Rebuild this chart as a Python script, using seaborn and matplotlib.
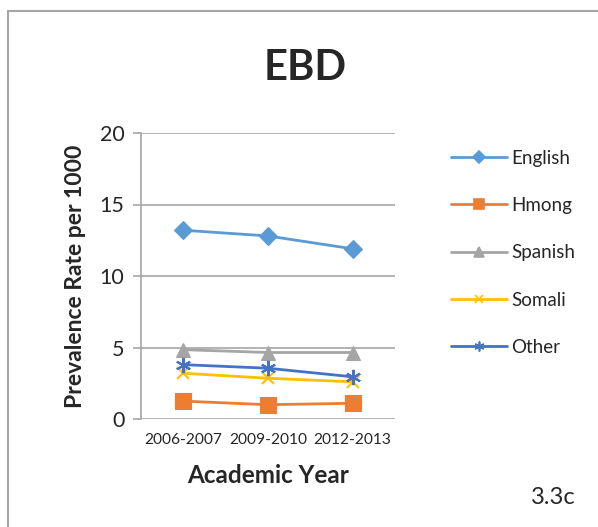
import matplotlib
matplotlib.use("Agg")
import matplotlib.pyplot as plt
import matplotlib.patches as mpatches
import pandas as pd
import seaborn as sns

years = ["2006-2007", "2009-2010", "2012-2013"]
english = [13.2, 12.8, 11.9]
hmong = [1.25, 1.0, 1.1]
spanish = [4.85, 4.65, 4.65]
somali = [3.2, 2.85, 2.6]
other = [3.8, 3.55, 2.95]

groups = ["English", "Hmong", "Spanish", "Somali", "Other"]
series = [english, hmong, spanish, somali, other]
colors = ["#5B9BD5", "#ED7D31", "#A5A5A5", "#FFC000", "#4472C4"]
markers = ["D", "s", "^", "x", (6, 2, 0)]
msizes = [9, 11, 10, 9, 11]

sns.set_theme(style="white")
plt.rcParams["font.family"] = ["Lato", "DejaVu Sans"]

rows = []
for g, vals in zip(groups, series):
    for i, (y, v) in enumerate(zip(years, vals)):
        rows.append({"group": g, "pos": i, "year": y, "rate": v})
df = pd.DataFrame(rows)

fig = plt.figure(figsize=(5.98, 5.27), dpi=100)
ax = fig.add_axes([141 / 598, 1 - 419 / 527, 254 / 598, 286 / 527])

handles = []
for g, c, m, ms in zip(groups, colors, markers, msizes):
    sub = df[df["group"] == g]
    sns.lineplot(data=sub, x="pos", y="rate", ax=ax, color=c, linewidth=2.0,
                 marker=m, markersize=ms, markeredgecolor=c,
                 markeredgewidth=1.5 if m in ("x", (6, 2, 0)) else 0.8,
                 legend=False)
    handles.append(plt.Line2D([0], [0], color=c, linewidth=2.0, marker=m,
                              markersize=ms * 0.65, markeredgecolor=c,
                              markeredgewidth=1.2, label=g))

ax.set_xlim(-0.5, 2.5)
ax.set_ylim(0, 20)
ax.set_yticks([0, 5, 10, 15, 20])
ax.set_xticks([0, 1, 2])
ax.set_xticklabels(years, fontsize=11.2)
ax.set_xticks([-0.5, 0.5, 1.5, 2.5], minor=True)
ax.tick_params(axis="x", which="major", length=0, pad=10)
ax.tick_params(axis="x", which="minor", length=6, color="#A6A6A6", width=1.2, direction="out")
ax.tick_params(axis="y", length=6, color="#A6A6A6", width=1.2, labelsize=15.5, pad=6, left=True)
ax.grid(axis="y", color="#A6A6A6", linewidth=1.2)
ax.set_axisbelow(True)
for s in ["top", "right", "bottom"]:
    ax.spines[s].set_visible(False)
ax.spines["left"].set_color("#A6A6A6")
ax.spines["left"].set_linewidth(1.2)

ax.set_xlabel("Academic Year", fontsize=17.5, fontweight="bold", labelpad=12)
ax.set_ylabel("Prevalence Rate per 1000", fontsize=16.5, fontweight="bold", labelpad=10)

fig.text(305 / 598, 1 - 68 / 527, "EBD", ha="center", va="center",
         fontsize=30, fontweight="bold")
fig.text(553 / 598, 1 - 497 / 527, "3.3c", ha="center", va="center", fontsize=17)

fig.legend(handles=handles, loc="upper left", bbox_to_anchor=(444 / 598, 1 - 142 / 527),
           frameon=False, fontsize=13.5, labelspacing=1.62, handlelength=2.95,
           handletextpad=0.25, borderaxespad=0)

fig.patches.append(mpatches.Rectangle((8 / 598, -0.1), 1.2, 1 - 11 / 527 + 0.1,
                                      transform=fig.transFigure, fill=False,
                                      edgecolor="#A6A6A6", linewidth=1.5))

fig.savefig("out.png", dpi=100)
